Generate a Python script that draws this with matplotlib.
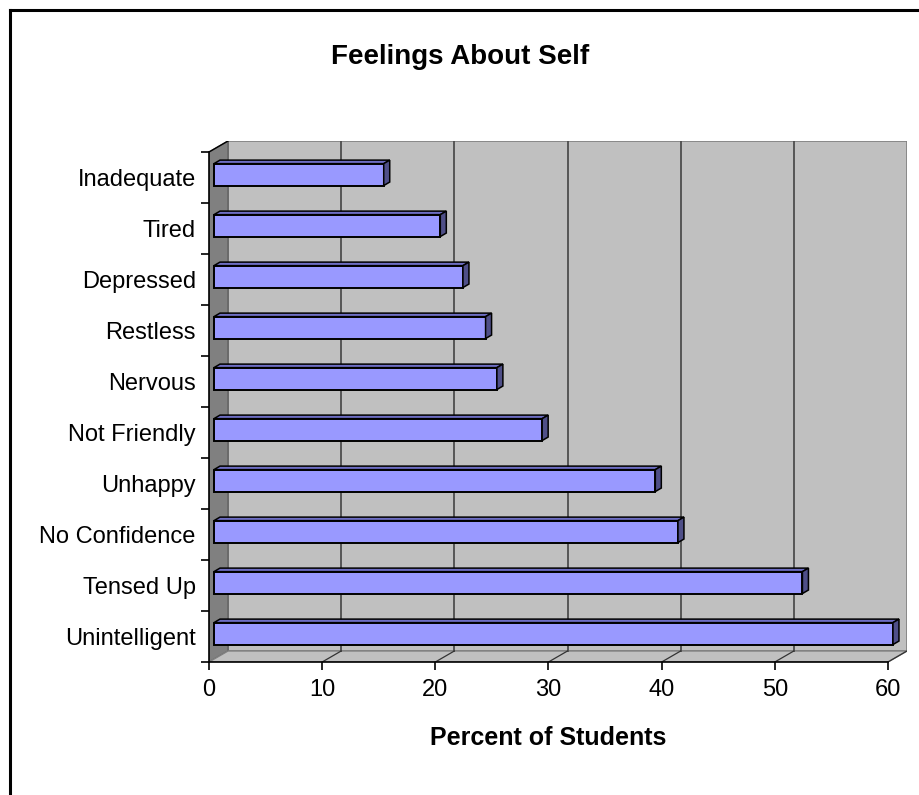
import numpy as np
import matplotlib
matplotlib.use('Agg')
import matplotlib.pyplot as plt
from matplotlib.patches import Polygon, Rectangle
from matplotlib.lines import Line2D

plt.rcParams['font.family'] = ['Liberation Sans', 'DejaVu Sans']

# bottom to top
feelings = ['Unintelligent', 'Tensed Up', 'No Confidence', 'Unhappy', 'Not Friendly',
            'Nervous', 'Restless', 'Depressed', 'Tired', 'Inadequate']
percent = [60, 52, 41, 39, 29, 25, 24, 22, 20, 15]
x_ticks = [0, 10, 20, 30, 40, 50, 60]

# 3d look: depth of the box and of the bars, in data units
DX, DY = 1.68, 0.216     # back wall shift
BX, BY = 0.44, 0.057     # bar front face shift into the box
DDX, DDY = 0.53, 0.069   # bar depth
BAR_H = 0.43
XMAX = 60

fig = plt.figure(figsize=(9.2, 7.95), dpi=100)
ax = fig.add_axes([209 / 920, (795 - 662) / 795, (907 - 209) / 920, (662 - 141) / 795])
ax.set_xlim(0, XMAX + DX)
ax.set_ylim(-0.5, len(feelings) - 0.5 + DY)
ax.patch.set_visible(False)

y0, y1 = -0.5, len(feelings) - 0.5
wall_edge = '#808080'

# back wall, left wall and floor
ax.add_patch(Rectangle((DX, y0 + DY), XMAX, y1 - y0, facecolor='#C0C0C0',
                       edgecolor=wall_edge, lw=1.2, zorder=0))
ax.add_patch(Polygon([(0, y0), (DX, y0 + DY), (DX, y1 + DY), (0, y1)],
                     facecolor='#808080', edgecolor='#606060', lw=1.0, zorder=0.5))
ax.add_patch(Polygon([(0, y0), (XMAX, y0), (XMAX + DX, y0 + DY), (DX, y0 + DY)],
                     facecolor='#C0C0C0', edgecolor=wall_edge, lw=1.0, zorder=0.5))
ax.plot([0, DX], [y1, y1 + DY], color='black', lw=1.0, zorder=1)

# gridlines on the back wall and floor
for t in x_ticks[1:]:
    if t < XMAX:
        ax.plot([t + DX, t + DX], [y0 + DY, y1 + DY], color='#4d4d4d', lw=1.3, zorder=1)
    ax.plot([t, t + DX], [y0, y0 + DY], color='#333333', lw=0.9, zorder=1)

# bars
ys = np.arange(len(feelings)) + BY
ax.barh(ys, percent, height=BAR_H, left=BX, color='#9999FF', edgecolor='black',
        lw=1.4, zorder=3)
for y, v in zip(ys, percent):
    top, bot, right = y + BAR_H / 2, y - BAR_H / 2, BX + v
    ax.add_patch(Polygon([(BX, top), (right, top), (right + DDX, top + DDY), (BX + DDX, top + DDY)],
                         facecolor='#6E6EC4', edgecolor='black', lw=1.1, zorder=3))
    ax.add_patch(Polygon([(right, bot), (right + DDX, bot + DDY), (right + DDX, top + DDY), (right, top)],
                         facecolor='#4F4F88', edgecolor='black', lw=1.1, zorder=3))

# axes
for s in ['top', 'right']:
    ax.spines[s].set_visible(False)
ax.spines['left'].set_bounds(y0, y1)
ax.spines['bottom'].set_bounds(0, XMAX)
ax.spines['left'].set_linewidth(1.2)
ax.spines['bottom'].set_linewidth(1.2)

ax.set_xticks(x_ticks)
ax.set_xticklabels([str(t) for t in x_ticks], fontsize=17)
ax.tick_params(axis='x', length=6, width=1.2, pad=6)

ax.set_yticks(np.arange(len(feelings)))
ax.set_yticklabels(feelings, fontsize=17)
ax.tick_params(axis='y', which='major', length=0, pad=9.5)
ax.set_yticks(np.arange(y0, y1 + 1), minor=True)
ax.tick_params(axis='y', which='minor', length=6, width=1.2)

ax.set_xlabel('Percent of Students', fontsize=18, fontweight='bold')
ax.xaxis.set_label_coords((548 - 209) / (907 - 209), -(726 - 662) / (662 - 141))

fig.text(460 / 920, 1 - 57 / 795, 'Feelings About Self', fontsize=20,
         fontweight='bold', ha='center', va='center')

# chart area border (left and top edges)
fig.add_artist(Line2D([10 / 920, 1.0], [1 - 10 / 795, 1 - 10 / 795], color='black', lw=2.2))
fig.add_artist(Line2D([10 / 920, 10 / 920], [0.0, 1 - 10 / 795], color='black', lw=2.2))

fig.savefig('out.png', dpi=100)
